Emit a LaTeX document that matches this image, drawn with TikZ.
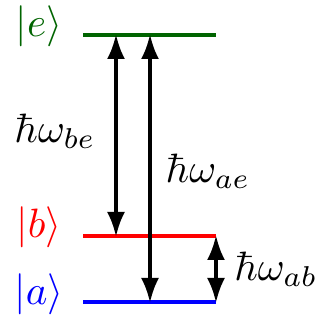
\documentclass[tikz,border=0pt]{standalone}
\usepackage{graphicx}
\usetikzlibrary{arrows.meta}
\definecolor{dkgreen}{RGB}{0,100,0}
\newcommand{\lvltxt}[1]{\scalebox{4.1}{$#1$}}
\begin{document}
\begin{tikzpicture}[x=1pt,y=1pt,
  level/.style={line width=4pt},
  trans/.style={line width=4pt,{Latex[length=25pt,width=18pt]}-{Latex[length=25pt,width=18pt]}, shorten <=-1pt, shorten >=-1pt},
  lbl/.style={inner sep=0pt}]
\useasboundingbox (0,0) rectangle (323,320);
\coordinate (e1) at (83,285);  \coordinate (e2) at (216,285);
\coordinate (b1) at (83,84);   \coordinate (b2) at (216,84);
\coordinate (a1) at (83,18);   \coordinate (a2) at (216,18);
\draw[level,dkgreen] (e1) -- (e2);
\draw[level,red] (b1) -- (b2);
\draw[level,blue] (a1) -- (a2);
\coordinate (pe1) at (116,285); \coordinate (pb1) at (116,84);
\coordinate (pe2) at (150,285); \coordinate (pa2) at (150,18);
\coordinate (pb3) at (216,84);  \coordinate (pa3) at (216,18);
\draw[trans] (pe1) -- (pb1);
\draw[trans] (pe2) -- (pa2);
\draw[trans] (pb3) -- (pa3);
\node[lbl,text=dkgreen] (le) at (39,294) {\lvltxt{|e\rangle}};
\node[lbl,text=red] (lb) at (39,93) {\lvltxt{|b\rangle}};
\node[lbl,text=blue] (la) at (39,26) {\lvltxt{|a\rangle}};
\node[lbl] (wbe) at (55,189) {\lvltxt{\hbar\omega_{be}}};
\node[lbl] (wae) at (208,149) {\lvltxt{\hbar\omega_{ae}}};
\node[lbl] (wab) at (276,51) {\lvltxt{\hbar\omega_{ab}}};
\end{tikzpicture}
\end{document}
